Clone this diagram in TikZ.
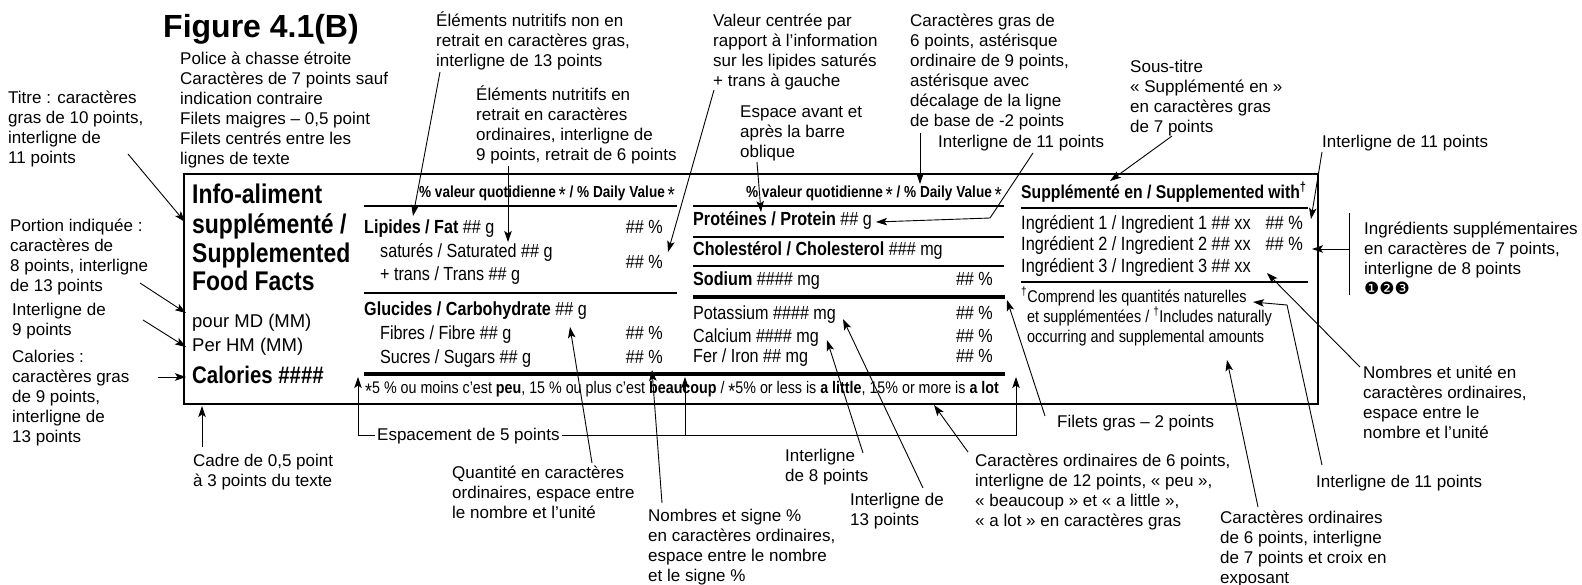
\documentclass[tikz,border=0pt]{standalone}
\usepackage{fontspec}
\setmainfont{Liberation Sans}
\newfontfamily\cnd[FakeStretch=0.85]{Liberation Sans}
\newfontfamily\djv{DejaVu Sans}
\usetikzlibrary{arrows.meta}
\newcommand\tp{\rule{0pt}{16pt}}
\newcommand\hast{{\mdseries\fontsize{22}{22}\selectfont\raisebox{-5pt}{*}}}
\newcommand\fast{{\mdseries\fontsize{21}{21}\selectfont\raisebox{-5pt}{*}}}
\newcommand\dg{\textsuperscript{†}}
\begin{document}
\begin{tikzpicture}[x=1pt,y=-1pt,
  ann/.style={font=\fontsize{17}{20}\selectfont, align=left, inner sep=0pt, anchor=north west},
  annl/.style={font=\fontsize{17}{20}\selectfont, inner sep=0pt, anchor=base west},
  lead/.style={line width=0.9pt},
  arr/.style={lead, -{Stealth[length=11pt,width=7.5pt,inset=2.5pt]}},
  rul/.style={line width=1.4pt},
  rulk/.style={line width=4.5pt},
  rul3/.style={line width=2pt},
  frame/.style={line width=1.5pt},
  ttl/.style={font=\cnd\bfseries\fontsize{27}{27}\selectfont, inner sep=0pt, anchor=base west},
  srv/.style={font=\fontsize{18.5}{18.5}\selectfont, inner sep=0pt, anchor=base west},
  cal/.style={font=\cnd\bfseries\fontsize{24}{24}\selectfont, inner sep=0pt, anchor=base west},
  lb/.style={font=\cnd\bfseries\fontsize{19}{19}\selectfont, inner sep=0pt, anchor=base west},
  ld/.style={font=\cnd\fontsize{19}{19}\selectfont, inner sep=0pt, anchor=base west},
  ldr/.style={ld, anchor=base east},
  ing/.style={font=\cnd\fontsize{19.2}{19.2}\selectfont, inner sep=0pt, anchor=base west},
  ingr/.style={ing, anchor=base east},
  hdr/.style={font=\cnd\bfseries\fontsize{16}{16}\selectfont, inner sep=0pt, anchor=base east},
  fnt/.style={font=\cnd\fontsize{16.8}{16.8}\selectfont, inner sep=0pt, anchor=base west},
  fn3/.style={font=\cnd\fontsize{17}{17}\selectfont, inner sep=0pt, anchor=base west}
]
\fill[white] (0,0) rectangle (1582,584);
\useasboundingbox (0,0) rectangle (1582,584);

% ---------- label frame ----------
\draw[frame] (184,174) rectangle (1318,404);

% left column
\node[ttl] (t1) at (192,203) {Info-aliment};
\node[ttl] (t2) at (192,233) {supplémenté /};
\node[ttl] (t3) at (192,262) {Supplemented};
\node[ttl] (t4) at (192,290) {Food Facts};
\node[srv] (s1) at (192,327) {pour MD (MM)};
\node[srv] (s2) at (192,351) {Per HM (MM)};
\node[cal] (cl) at (192,383) {Calories \#\#\#\#};

% column 1
\node[hdr] (h1) at (675,197) {\% valeur quotidienne\,\hast\ / \% Daily Value\,\hast};
\draw[rul] (364,206) -- (677,206);
\node[lb] (lip) at (364,233) {Lipides / Fat \textmd{\#\# g}};
\node[ldr] (lipv) at (663,233) {\#\# \%};
\node[ld] (sat) at (380,257) {saturés / Saturated \#\# g};
\node[ld] (tra) at (380,280) {+ trans / Trans \#\# g};
\node[ldr] (satv) at (663,268) {\#\# \%};
\draw[rul] (364,293) -- (677,293);
\node[lb] (glu) at (364,315) {Glucides / Carbohydrate \textmd{\#\# g}};
\node[ld] (fib) at (380,339) {Fibres / Fibre \#\# g};
\node[ldr] (fibv) at (663,339) {\#\# \%};
\node[ld] (suc) at (380,363) {Sucres / Sugars \#\# g};
\node[ldr] (sucv) at (663,363) {\#\# \%};
\draw[rulk] (364,374) -- (1005,374);
\node[fnt] (foot) at (365,393) {\fast5 \% ou moins c’est \textbf{peu}, 15 \% ou plus c’est \textbf{beaucoup} / \fast5\% or less is \textbf{a little}, 15\% or more is \textbf{a lot}};

% column 2
\node[hdr] (h2) at (1002,197) {\% valeur quotidienne\,\hast\ / \% Daily Value\,\hast};
\draw[rul] (693,206) -- (1004,206);
\node[lb] (pro) at (693,225) {Protéines / Protein \textmd{\#\# g}};
\draw[rul] (693,237) -- (1004,237);
\node[lb] (cho) at (693,255) {Cholestérol / Cholesterol \textmd{\#\#\# mg}};
\draw[rul] (693,266) -- (1004,266);
\node[lb] (sod) at (693,285) {Sodium \textmd{\#\#\#\# mg}};
\node[ldr] (sodv) at (993,285) {\#\# \%};
\draw[rulk] (693,297) -- (1005,297);
\node[ld] (pot) at (693,319) {Potassium \#\#\#\# mg};
\node[ldr] (potv) at (993,319) {\#\# \%};
\node[ld] (clc) at (693,342) {Calcium \#\#\#\# mg};
\node[ldr] (clcv) at (993,342) {\#\# \%};
\node[ld] (fer) at (693,362) {Fer / Iron \#\# mg};
\node[ldr] (ferv) at (993,362) {\#\# \%};

% column 3
\node[lb, font=\cnd\bfseries\fontsize{18.5}{18.5}\selectfont] (sup) at (1021,198) {Supplémenté en / Supplemented with\dg};
\draw[rul3] (1021,208) -- (1308,208);
\node[ing] (i1) at (1021,229) {Ingrédient 1 / Ingredient 1 \#\# xx};
\node[ingr] (i1v) at (1303,229) {\#\# \%};
\node[ing] (i2) at (1021,250) {Ingrédient 2 / Ingredient 2 \#\# xx};
\node[ingr] (i2v) at (1303,250) {\#\# \%};
\node[ing] (i3) at (1021,272) {Ingrédient 3 / Ingredient 3 \#\# xx};
\draw[rul3] (1021,282) -- (1308,282);
\node[fn3] (d1) at (1021,302) {\dg Comprend les quantités naturelles};
\node[fn3] (d2) at (1027,322) {et supplémentées / \dg Includes naturally};
\node[fn3] (d3) at (1027,342) {occurring and supplemental amounts};

% ---------- annotations ----------
\node[font=\bfseries\fontsize{32}{32}\selectfont, inner sep=0pt, anchor=base west] (fig) at (163,37) {Figure 4.1(B)};
\node[ann] (titre) at (8,87) {\tp Titre : caractères\\gras de 10 points,\\interligne de\\11 points};
\node[ann] (police) at (180,48) {\tp Police à chasse étroite\\Caractères de 7 points sauf\\indication contraire\\Filets maigres – 0,5 point\\Filets centrés entre les\\lignes de texte};
\node[ann] (elemn) at (436,10) {\tp Éléments nutritifs non en\\retrait en caractères gras,\\interligne de 13 points};
\node[ann] (elemr) at (476,84) {\tp Éléments nutritifs en\\retrait en caractères\\ordinaires, interligne de\\9 points, retrait de 6 points};
\node[ann] (valeur) at (713,10) {\tp Valeur centrée par\\rapport à l’information\\sur les lipides saturés\\+ trans à gauche};
\node[ann] (espace) at (740,101) {\tp Espace avant et\\après la barre\\oblique};
\node[ann] (car9) at (910,10) {\tp Caractères gras de\\6 points, astérisque\\ordinaire de 9 points,\\astérisque avec\\décalage de la ligne\\de base de -2 points};
\node[annl] (int11m) at (938,147) {Interligne de 11 points};
\node[ann] (sous) at (1130,56) {\tp Sous-titre\\« Supplémenté en »\\en caractères gras\\de 7 points};
\node[annl] (int11t) at (1322,147) {Interligne de 11 points};
\node[ann] (portion) at (10,215) {\tp Portion indiquée :\\caractères de\\8 points, interligne\\de 13 points};
\node[ann] (int9) at (12,299) {\tp Interligne de\\9 points};
\node[ann] (calo) at (12,346) {\tp Calories :\\caractères gras\\de 9 points,\\interligne de\\13 points};
\node[ann] (cadre) at (193,450) {\tp Cadre de 0,5 point\\à 3 points du texte};
\node[annl, inner xsep=2pt] (esp) at (375,440) {Espacement de 5 points};
\node[ann] (quant) at (452,462) {\tp Quantité en caractères\\ordinaires, espace entre\\le nombre et l’unité};
\node[ann] (nomb) at (648,505) {\tp Nombres et signe \%\\en caractères ordinaires,\\espace entre le nombre\\et le signe \%};
\node[ann] (int8) at (785,445) {\tp Interligne\\de 8 points};
\node[ann] (int13) at (850,489) {\tp Interligne de\\13 points};
\node[ann] (car6) at (975,450) {\tp Caractères ordinaires de 6 points,\\interligne de 12 points, « peu »,\\« beaucoup » et « a little »,\\« a lot » en caractères gras};
\node[annl] (filets) at (1057,427) {Filets gras – 2 points};
\node[ann] (croix) at (1220,507) {\tp Caractères ordinaires\\de 6 points, interligne\\de 7 points et croix en\\exposant};
\node[annl] (int11b) at (1316,487) {Interligne de 11 points};
\node[ann] (nombu) at (1363,362) {\tp Nombres et unité en\\caractères ordinaires,\\espace entre le\\nombre et l’unité};
\node[ann] (ingr) at (1364,218) {\tp Ingrédients supplémentaires\\en caractères de 7 points,\\interligne de 8 points\\{\djv ❶❷❸}};

% ---------- leader coordinates ----------
\coordinate (a1) at (128,154);  \coordinate (b1) at (185,222);
\coordinate (a2) at (140,283);  \coordinate (b2) at (186,313);
\coordinate (a3) at (143,320);  \coordinate (b3) at (186,347);
\coordinate (a4) at (158,377);  \coordinate (b4) at (186,377);
\coordinate (a5) at (202,447);  \coordinate (b5) at (202,406);
\coordinate (e1) at (358,377);  \coordinate (e2) at (685,377); \coordinate (e3) at (1016,377);
\coordinate (e2b) at (685,436);
\coordinate (a7) at (592,463);  \coordinate (b7) at (570,327);
\coordinate (a8) at (662,503);  \coordinate (b8) at (652,370);
\coordinate (a9) at (863,453);  \coordinate (b9) at (827,340);
\coordinate (a10) at (923,488); \coordinate (b10) at (843,319);
\coordinate (a11) at (968,452); \coordinate (b11) at (934,405);
\coordinate (a12) at (1045,416); \coordinate (b12) at (1007,300);
\coordinate (a13) at (1258,507); \coordinate (b13) at (1227,360);
\coordinate (a14) at (1322,465); \coordinate (k14) at (1287,305); \coordinate (b14) at (1253,302);
\coordinate (a15) at (1360,367); \coordinate (b15) at (1267,273);
\coordinate (g1) at (1349,213); \coordinate (g2) at (1349,295); \coordinate (a16) at (1349,249); \coordinate (b16) at (1312,249);
\coordinate (a17) at (1322,152); \coordinate (b17) at (1311,219);
\coordinate (a18) at (1172,136); \coordinate (b18) at (1110,181);
\coordinate (a19) at (1033,153); \coordinate (k19) at (990,218); \coordinate (b19) at (876,222);
\coordinate (a20) at (920,133); \coordinate (b20) at (920,184);
\coordinate (a21) at (757,162); \coordinate (b21) at (761,212);
\coordinate (a22) at (714,90);  \coordinate (b22) at (668,252);
\coordinate (a23) at (508,166); \coordinate (b23) at (508,242);
\coordinate (a24) at (440,72);  \coordinate (b24) at (413,216);

% ---------- leaders ----------
\draw[arr] (a1) -- (b1);
\draw[arr] (a2) -- (b2);
\draw[arr] (a3) -- (b3);
\draw[arr] (a4) -- (b4);
\draw[arr] (a5) -- (b5);
\draw[arr] (esp.west) -| (e1);
\draw[arr] (esp.east) -| (e3);
\draw[arr] (e2b) -- (e2);
\draw[arr] (a7) -- (b7);
\draw[arr] (a8) -- (b8);
\draw[arr] (a9) -- (b9);
\draw[arr] (a10) -- (b10);
\draw[arr] (a11) -- (b11);
\draw[arr] (a12) -- (b12);
\draw[arr] (a13) -- (b13);
\draw[arr] (a14) -- (k14) -- (b14);
\draw[arr] (a15) -- (b15);
\draw[lead] (g1) -- (g2);
\draw[arr] (a16) -- (b16);
\draw[arr] (a17) -- (b17);
\draw[arr] (a18) -- (b18);
\draw[arr] (a19) -- (k19) -- (b19);
\draw[arr] (a20) -- (b20);
\draw[arr] (a21) -- (b21);
\draw[arr] (a22) -- (b22);
\draw[arr] (a23) -- (b23);
\draw[arr] (a24) -- (b24);
\end{tikzpicture}
\end{document}
